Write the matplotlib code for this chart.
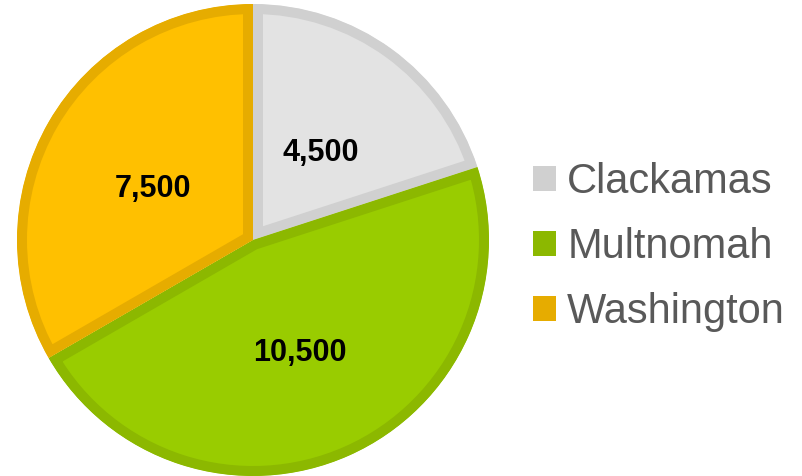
import matplotlib.pyplot as plt
from matplotlib.patches import Patch, Wedge

counties = ['Clackamas', 'Multnomah', 'Washington']
values = [4500, 10500, 7500]
fill_colors = ['#E3E3E3', '#99CC00', '#FFC000']
edge_colors = ['#D0D0D0', '#8CB800', '#E6AC00']

plt.rcParams['font.family'] = ['Liberation Sans', 'DejaVu Sans']

fig = plt.figure(figsize=(8.03, 4.76), dpi=100)
ax = fig.add_axes([(253 - 236) / 803, 0, 472 / 803, 472 / 476])

total = sum(values)
wedges, texts, autotexts = ax.pie(
    values, colors=fill_colors, startangle=90, counterclock=False,
    radius=1.0, pctdistance=0.49,
    autopct=lambda p: f'{p * total / 100:,.0f}',
    wedgeprops=dict(linewidth=0),
    textprops=dict(fontsize=22, fontweight='bold', color='black'))

# darker border drawn only on the inside of each slice
# (pie turns clipping off, so switch it back on)
for w, ec in zip(wedges, edge_colors):
    clip = Wedge(w.center, w.r, w.theta1, w.theta2, transform=ax.transData)
    w.set_edgecolor(ec)
    w.set_linewidth(14.4)
    w.set_clip_on(True)
    w.set_clip_path(clip)

# nudge the labels down a little
for t in autotexts:
    x, y = t.get_position()
    t.set_position((x, y - 7 / 236))

ax.set_xlim(-1.0, 1.0)
ax.set_ylim(-1.0, 1.0)
ax.set_aspect('equal')
ax.axis('off')

handles = [Patch(facecolor=c, edgecolor='none') for c in edge_colors]
leg = fig.legend(handles, counties, loc='center left',
                 bbox_to_anchor=(533 / 803, 1 - 247 / 476),
                 frameon=False, fontsize=30, borderpad=0, borderaxespad=0,
                 handlelength=0.56, handleheight=0.56, handletextpad=0.26,
                 labelspacing=0.6)
for t in leg.get_texts():
    t.set_color('#595959')

fig.savefig('out.png', dpi=100)
